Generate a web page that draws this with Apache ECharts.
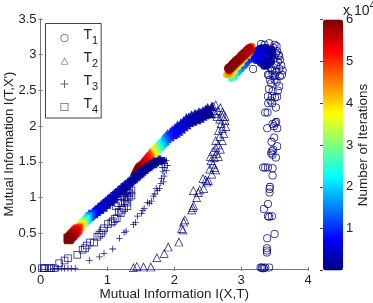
<!DOCTYPE html>
<html><head><meta charset="utf-8">
<style>html,body{margin:0;padding:0;background:#fff}#c{width:373px;height:303px}</style>
<script src="https://cdn.jsdelivr.net/npm/echarts@6/dist/echarts.min.js"></script>
</head><body><div id="c"></div>
<script>
// Each point: [I(X,T), I(T,X'), iterations / 10^4]
const t1Sparse=[[3.32,.01,.01],[3.29,.02,.01],[3.31,.02,.01],[3.36,.02,.01],[3.42,.02,.01],[3.34,.01,.01],[3.385,.23,.01],[3.385,.26,.01],[3.385,.29,.01],[3.39,.43,.01],[3.5,.49,.01],[3.40,.74,.01],[3.46,.74,.01],[3.42,.73,.01],[3.34,.84,.01],[3.40,.91,.01],[3.425,1.07,.01],[3.425,1.12,.01],[3.43,1.15,.01],[3.33,1.42,.01],[3.36,1.42,.01],[3.40,1.42,.01],[3.47,1.41,.01],[3.47,1.31,.01],[3.45,1.62,.01],[3.47,1.6,.01],[3.46,1.65,.01],[3.52,1.56,.02],[3.48,1.67,.02],[3.54,1.72,.02],[3.455,1.78,.02],[3.495,1.84,.02],[3.39,1.97,.02],[3.49,2.0,.02],[3.54,1.97,.02],[3.525,2.06,.02],[3.51,2.04,.02],[3.47,2.03,.02],[3.395,2.19,.02],[3.36,2.19,.02],[3.52,2.26,.02],[3.465,2.32,.02],[3.405,2.32,.02],[3.505,2.4,.02],[3.46,2.42,.03],[3.54,2.41,.03],[3.415,2.52,.03],[3.57,2.56,.03],[3.43,2.65,.03],[3.5,2.65,.03],[3.62,2.78,.03],[3.18,2.8,.03],[3.47,2.49,.03],[3.55,2.5,.03],[3.53,2.62,.03],[3.4,2.42,.03],[3.44,2.36,.03]];
const t1Edge=[[3.6,2.85,.03],[3.58,2.7,.03],[3.61,2.72,.03],[3.57,2.98,.03],[3.53,3.12,.04],[3.5,3.14,.04],[3.42,3.16,.04],[3.35,3.14,.04],[3.3,3.15,.04],[3.45,2.6,.04],[3.42,2.72,.05],[3.57,2.8,.05],[3.55,2.9,.05],[3.58,2.93,.05],[3.54,3.05,.05],[3.47,2.72,.05],[3.5,2.78,.05],[3.4,2.72,.05],[3.44,2.82,.05],[3.52,2.85,.05],[3.56,3.0,.05],[3.5,2.7,.06],[3.53,2.76,.06],[3.48,3.1,.06],[3.46,2.78,.07],[3.5,2.95,.07],[3.52,3.02,.07]];
const t1Dense=[[3.46,3.08,.1],[3.38,3.1,.12],[3.45,2.9,.12],[3.47,2.98,.12],[3.47,3.04,.12],[3.41,2.86,.14],[3.38,2.84,.16],[3.34,2.84,.18],[3.42,2.95,.18],[3.43,3.03,.18],[3.32,3.1,.2],[3.4,3.06,.2],[3.37,3.04,.22],[3.33,3.07,.24],[3.38,2.92,.24],[3.33,2.93,.28],[3.29,2.88,.3],[3.3,3.0,.32],[3.35,3.0,.34],[3.26,3.07,.36],[3.28,3.09,.38],[3.24,3.0,.42],[3.26,2.92,.44],[3.22,2.92,.48],[3.24,3.05,.5],[3.31,3.04,.5],[3.28,2.97,.52],[3.2,2.96,.56],[3.22,3.02,.6],[3.18,3.0,.64],[3.2,3.06,.68],[3.17,2.95,.72],[3.15,3.0,.8],[3.13,2.93,.9],[3.1,2.92,1],[3.08,2.88,1.1],[3.05,2.85,1.25],[3.02,2.83,1.4]];
const t1Color=[[3.0,2.8,1.5],[2.97,2.78,1.65],[2.95,2.75,1.8],[2.92,2.73,2],[2.9,2.7,2.2],[2.87,2.68,2.4],[2.85,2.67,2.6],[3.13,3.03,3.4],[3.1,2.99,3.5],[3.05,2.94,3.6],[3.0,2.88,3.7],[2.95,2.83,3.8],[2.9,2.77,3.9],[2.86,2.72,4],[2.78,2.72,4.1],[2.8,2.73,4.3],[2.82,2.74,4.5],[3.14,3.11,4.6],[3.16,3.12,4.8]];
const t1Red=[[3.14,3.07,5.3],[3.12,3.05,5.32],[3.1,3.04,5.34],[3.08,3.02,5.36],[3.06,3.0,5.38],[3.04,2.98,5.4],[3.02,2.97,5.42],[3.0,2.95,5.44],[2.98,2.93,5.46],[2.96,2.91,5.48],[2.94,2.9,5.5],[2.92,2.88,5.52],[2.9,2.86,5.54],[2.88,2.84,5.56],[2.86,2.82,5.58],[2.84,2.81,5.6],[2.82,2.79,5.62],[3.13,3.09,5.7],[3.11,3.08,5.72],[3.09,3.06,5.74],[3.07,3.04,5.76],[3.05,3.02,5.78],[3.03,3.01,5.8],[3.01,2.99,5.82],[2.99,2.97,5.84],[2.97,2.95,5.86],[2.95,2.93,5.88],[2.93,2.92,5.9],[2.91,2.9,5.92],[2.89,2.88,5.94],[2.87,2.86,5.96],[2.85,2.84,5.97],[2.83,2.82,5.98],[2.81,2.81,6]];
const t2Sparse=[[1.39,.02,.01],[1.44,.04,.01],[1.54,.03,.01],[1.65,.03,.01],[1.74,.16,.01],[1.85,.22,.01],[1.91,.31,.01],[2.07,.38,.01],[2.11,.57,.01],[2.13,.55,.01],[2.16,.69,.01],[2.14,.66,.01],[2.275,.86,.01],[2.29,.89,.01],[2.26,.83,.01],[2.335,1.0,.01],[2.285,1.1,.01],[2.36,1.07,.01],[2.38,1.11,.01],[2.44,1.13,.01],[2.43,1.27,.02],[2.47,1.25,.02],[2.51,1.24,.02],[2.49,1.22,.02],[2.56,1.33,.02],[2.62,1.39,.02],[2.53,1.4,.02],[2.58,1.47,.02],[2.6,1.42,.02],[2.55,1.52,.02],[2.54,1.58,.02],[2.66,1.58,.02],[2.6,1.56,.02],[2.63,1.62,.02],[2.58,1.65,.02],[2.62,1.7,.03],[2.69,1.68,.03],[2.66,1.74,.03],[2.72,1.8,.03],[2.62,1.8,.03],[2.68,1.86,.03],[2.74,1.9,.03],[2.66,1.94,.03],[2.72,1.97,.03],[2.77,2.0,.03],[2.7,2.04,.03],[2.76,2.08,.03],[2.72,2.14,.04],[2.76,2.14,.04],[2.68,2.1,.04],[2.72,2.2,.04],[2.65,2.22,.04],[2.69,2.26,.05],[2.62,2.3,.05],[2.58,2.28,.05],[2.64,2.14,.05],[2.6,2.18,.05]];
const t2Dense=[[2.56,2.28,.06],[2.53,2.22,.07],[2.5,2.26,.08],[2.55,2.17,.08],[2.51,2.18,.09],[2.47,2.24,.1],[2.46,2.16,.1],[2.43,2.22,.12],[2.43,2.14,.13],[2.4,2.19,.14],[2.39,2.11,.15],[2.37,2.2,.16],[2.36,2.14,.17],[2.34,2.17,.18],[2.34,2.09,.19],[2.31,2.12,.2],[2.31,2.18,.21],[2.29,2.14,.22],[2.28,2.07,.23],[2.26,2.16,.24],[2.25,2.09,.26],[2.23,2.05,.28],[2.22,2.13,.3],[2.2,2.08,.32],[2.19,2.02,.34],[2.18,2.12,.36],[2.16,2.05,.38],[2.15,1.99,.4],[2.14,2.08,.42],[2.12,2.02,.44],[2.11,1.96,.46],[2.1,2.05,.48],[2.08,1.99,.5],[2.07,1.93,.52],[2.05,2.02,.55],[2.04,1.96,.58],[2.03,1.9,.6],[2.01,1.98,.63],[2.0,1.92,.66],[1.99,1.88,.7],[1.97,1.95,.75],[1.96,1.89,.8],[1.94,1.85,.85],[1.94,1.92,.9],[1.92,1.87,.95]];
const t2Color=[[1.9,1.89,1],[1.89,1.83,1.1],[1.87,1.86,1.3],[1.86,1.8,1.4],[1.84,1.83,1.6],[1.83,1.77,1.7],[1.82,1.8,1.9],[1.8,1.74,2],[1.79,1.77,2.2],[1.77,1.72,2.4],[1.76,1.75,2.6],[1.74,1.69,2.8],[1.73,1.72,3],[1.71,1.66,3.2],[1.7,1.69,3.5],[1.69,1.63,3.7],[1.68,1.66,3.9],[1.66,1.6,4.2],[1.65,1.63,4.4],[1.64,1.58,4.6]];
const t2Red=[[1.63,1.61,4.9],[1.62,1.56,5],[1.61,1.58,5.1],[1.6,1.54,5.15],[1.59,1.56,5.2],[1.58,1.52,5.3],[1.57,1.54,5.35],[1.56,1.5,5.4],[1.55,1.52,5.45],[1.54,1.48,5.5],[1.53,1.49,5.55],[1.52,1.46,5.6],[1.51,1.47,5.65],[1.5,1.44,5.7],[1.49,1.45,5.75],[1.48,1.43,5.8],[1.47,1.43,5.85],[1.46,1.41,5.9],[1.45,1.42,5.93],[1.44,1.41,5.95],[1.43,1.4,5.97],[1.47,1.4,5.98],[1.42,1.39,6]];
const t3Sparse=[[.2,.01,.01],[.27,.01,.01],[.31,.01,.01],[.36,.01,.01],[.41,.01,.01],[.46,.01,.01],[.52,.01,.01],[.73,.12,.01],[.88,.17,.01],[.95,.22,.01],[1.08,.28,.01],[1.18,.43,.01],[1.25,.51,.01],[1.28,.53,.01],[1.39,.62,.01],[1.42,.65,.01],[1.45,.74,.01],[1.53,.82,.01],[1.51,.78,.01],[1.55,.85,.01],[1.63,.92,.01],[1.6,.93,.01],[1.66,.95,.01],[1.71,1.05,.02],[1.69,1.02,.02],[1.75,1.1,.02],[1.73,1.13,.02],[1.78,1.13,.02],[1.8,1.2,.02],[1.84,1.22,.02],[1.81,1.27,.02],[1.85,1.3,.02],[1.83,1.36,.02],[1.88,1.38,.02],[1.85,1.42,.02],[1.9,1.45,.02],[1.86,1.48,.03],[1.88,1.52,.03],[1.83,1.5,.03],[1.82,1.42,.03]];
const t3Dense=[[1.84,1.52,.04],[1.8,1.5,.05],[1.78,1.54,.05],[1.74,1.5,.06],[1.72,1.46,.06],[1.7,1.51,.07],[1.67,1.46,.07],[1.65,1.42,.08],[1.64,1.47,.08],[1.61,1.42,.09],[1.59,1.38,.1],[1.58,1.43,.1],[1.55,1.38,.11],[1.53,1.33,.12],[1.52,1.39,.13],[1.5,1.34,.14],[1.48,1.29,.15],[1.47,1.35,.16],[1.45,1.3,.17],[1.43,1.25,.18],[1.42,1.31,.19],[1.4,1.26,.2],[1.38,1.21,.21],[1.37,1.27,.22],[1.35,1.22,.23],[1.33,1.17,.24],[1.32,1.23,.25],[1.3,1.18,.26],[1.28,1.13,.27],[1.27,1.19,.28],[1.25,1.14,.29],[1.23,1.09,.3],[1.22,1.15,.31],[1.2,1.1,.32],[1.18,1.05,.33],[1.17,1.11,.34],[1.15,1.06,.35],[1.13,1.01,.36],[1.12,1.07,.37],[1.1,1.02,.38],[1.08,.97,.39],[1.07,1.03,.4],[1.05,.98,.42],[1.03,.93,.44],[1.02,.99,.46],[1.0,.94,.48],[.98,.89,.5],[.97,.95,.52],[.95,.9,.54],[.93,.85,.56],[.92,.91,.58],[.9,.86,.6],[.88,.81,.63],[.87,.87,.66],[.85,.82,.7],[.83,.78,.75],[.82,.83,.8],[.8,.78,.85]];
const t4Sparse=[[.02,.01,.01],[.05,.01,.01],[.07,.01,.01],[.13,.01,.01],[.16,.01,.01],[.2,.01,.01],[.28,.08,.01],[.36,.12,.01],[.41,.15,.01],[.55,.2,.01],[.63,.27,.01],[.665,.29,.01],[.69,.33,.01],[.74,.37,.01],[.8,.37,.01],[.85,.45,.01],[.91,.5,.01],[.88,.48,.01],[.95,.57,.01],[.93,.54,.01],[1.01,.63,.01],[1.06,.65,.01],[1.08,.67,.01],[1.14,.71,.01],[1.11,.7,.02],[1.2,.78,.02],[1.17,.8,.02],[1.25,.85,.02],[1.22,.83,.02],[1.29,.93,.02],[1.26,.95,.02],[1.3,.88,.02],[1.32,1.0,.02],[1.29,1.0,.02],[1.33,1.06,.02],[1.3,1.07,.02],[1.36,1.03,.03],[1.36,1.1,.03],[1.32,1.12,.03],[1.28,1.1,.03],[1.24,1.06,.03],[1.25,1.0,.03],[1.21,.92,.03],[1.2,1.02,.03],[1.16,.92,.03],[1.13,.88,.03]];
const t4Color=[[1.1,.97,.2],[1.05,.93,.24],[1.0,.89,.28],[.98,.93,.3],[.95,.85,.34],[.93,.88,.38],[.9,.82,.42],[.88,.84,.48],[.85,.79,.55],[.83,.81,.62],[.81,.76,.7],[.79,.78,.85],[.77,.74,1],[.76,.78,1.15],[.75,.72,1.3],[.73,.75,1.5],[.72,.7,1.7],[.71,.73,1.9],[.7,.68,2.05],[.69,.71,2.2],[.68,.67,2.4],[.67,.69,2.6],[.66,.65,2.8],[.65,.67,3],[.64,.63,3.2],[.63,.65,3.4],[.62,.61,3.6],[.61,.63,3.8],[.6,.59,4.1],[.59,.6,4.4],[.58,.57,4.6],[.57,.58,4.8]];
const t4Red=[[.56,.55,5],[.55,.56,5.1],[.54,.53,5.2],[.53,.54,5.3],[.52,.51,5.4],[.51,.52,5.5],[.5,.49,5.6],[.49,.5,5.65],[.48,.47,5.7],[.47,.48,5.75],[.46,.45,5.8],[.45,.46,5.85],[.44,.43,5.9],[.43,.44,5.93],[.43,.42,5.96],[.41,.43,5.98],[.42,.41,6]];
const xTicks={min:0,max:4,interval:1};
const yTicks={min:0,max:3.5,interval:.5};
const barTicks={min:0,max:6,interval:1};
const seriesNames=['T1','T2','T3','T4'];
const jet=['#00007f','#0000ff','#007fff','#00ffff','#7fff7f','#ffff00','#ff7f00','#ff0000','#7f0000'];

const circlePath='path://M50 0A50 50 0 1 1 50 100A50 50 0 1 1 50 0ZM50 10A40 40 0 1 0 50 90A40 40 0 1 0 50 10Z';
const triPath='path://M50 0L100 90L0 90ZM50 16L12 83L88 83Z';
const squarePath='path://M0 0H100V100H0ZM10 10V90H90V10Z';
const plusPath='path://M44 0H56V44H100V56H56V100H44V56H0V44H44Z';
const circleSolid='circle';
const triSolid='path://M50 0L100 90L0 90Z';
const squareSolid='rect';
const plusSolid='path://M25 0H75V25H100V75H75V100H25V75H0V25H25Z';
const FONT='"Liberation Sans",Arial,sans-serif';
const TXT='#222';
const LINE='#777';
const solid=(arr,symbol,symbolSize)=>arr.map(p=>({value:p,symbol,symbolSize}));
function mk(name,data,symbol,size){
  return {type:'scatter',name,data,symbol,symbolSize:size,xAxisIndex:0,yAxisIndex:0,
    itemStyle:{color:'#555',opacity:.9},emphasis:{disabled:true},silent:true};
}
const t1Data=[...t1Sparse,...t1Edge,...solid(t1Dense,circleSolid,7),...solid(t1Color,circleSolid,7),...solid(t1Red,circleSolid,9)];
const t2Data=[...t2Sparse,...solid(t2Dense,triSolid,9),...solid(t2Color,triSolid,10),...solid(t2Red,triSolid,11)];
const t3Data=[...t3Sparse,...solid(t3Dense,plusSolid,7)];
const t4Data=[...t4Sparse,...solid(t4Color,squareSolid,7),...solid(t4Red,squareSolid,9)];
const chart=echarts.init(document.getElementById('c'),null,{renderer:'canvas'});
const innerAxis={axisLine:{show:true,lineStyle:{color:LINE,width:1}},axisTick:{show:true,inside:true,length:2,lineStyle:{color:LINE}},splitLine:{show:false}};
chart.setOption({
  animation:false,
  backgroundColor:'#fff',
  textStyle:{fontFamily:FONT},
  title:{text:'{a|x 10}{b|4}',left:343,top:-2,padding:0,textStyle:{fontWeight:'normal',rich:{
    a:{fontSize:14,color:TXT,fontFamily:FONT,fontWeight:'normal',padding:[6,0,0,0]},
    b:{fontSize:10,color:TXT,fontFamily:FONT,fontWeight:'normal',padding:[0,0,4,0]}}}},
  grid:[{left:40.5,top:19,width:267.5,height:250,show:false,outerBoundsMode:'none'},{left:323,top:19.5,width:20,height:251,show:false,outerBoundsMode:'none'}],
  xAxis:[
    {gridIndex:0,type:'value',...xTicks,position:'bottom',...innerAxis,
     axisLabel:{fontSize:13,color:TXT,margin:5},
     name:'Mutual Information I(X,T)',nameLocation:'middle',nameMoveOverlap:false,nameGap:18,nameTextStyle:{fontSize:13.5,color:TXT}},
    {gridIndex:0,type:'value',...xTicks,position:'top',...innerAxis,axisLabel:{show:false}},
    {gridIndex:1,type:'value',min:0,max:1,show:false}],
  yAxis:[
    {gridIndex:0,type:'value',...yTicks,position:'left',...innerAxis,
     axisLabel:{fontSize:13,color:TXT,margin:4},
     name:"Mutual Information I(T,X')",nameLocation:'middle',nameMoveOverlap:false,nameGap:25,nameTextStyle:{fontSize:13,color:TXT}},
    {gridIndex:0,type:'value',...yTicks,position:'right',...innerAxis,axisLabel:{show:false}},
    {gridIndex:1,type:'value',...barTicks,position:'right',
     axisLine:{show:false},splitLine:{show:false},
     axisTick:{show:true,inside:true,length:3,lineStyle:{color:'#444'}},
     axisLabel:{fontSize:13,color:TXT,margin:3,formatter:v=>v===0?'':String(v)},
     name:'Number of Iterations',nameLocation:'middle',nameMoveOverlap:false,nameGap:13,nameRotate:90,nameTextStyle:{fontSize:13.5,color:TXT}}],
  legend:{show:true,orient:'vertical',left:45.5,top:23.5,padding:[5,3,3,15],itemGap:5.5,itemWidth:8,itemHeight:8,
    borderColor:'#444',borderWidth:1,backgroundColor:'#fff',selectedMode:false,z:10,
    data:[{name:'T1',icon:circlePath},{name:'T2',icon:triPath},{name:'T3',icon:plusPath},{name:'T4',icon:squarePath}],
    formatter:n=>`{a|${n[0]}}{b|${n[1]}}`,
    textStyle:{padding:[0,0,0,10],rich:{
      a:{fontSize:14,color:TXT,fontFamily:FONT,height:17,verticalAlign:'top',padding:[0,0,5,0]},
      b:{fontSize:11,color:TXT,fontFamily:FONT,height:17,verticalAlign:'bottom',padding:[5,0,0,0]}}}},
  visualMap:{type:'continuous',min:0,max:6,dimension:2,seriesIndex:[0,1,2,3],show:true,calculable:false,
    orient:'vertical',left:323,top:19.5,itemWidth:20,itemHeight:251,padding:0,text:null,hoverLink:false,
    showLabel:false,inRange:{color:jet},textStyle:{color:'rgba(0,0,0,0)',fontSize:1},formatter:()=>''},
  series:[
    mk(seriesNames[0],t1Data,circlePath,8),
    mk(seriesNames[1],t2Data,triPath,9),
    mk(seriesNames[2],t3Data,plusPath,6.5),
    mk(seriesNames[3],t4Data,squarePath,7.5)
  ]
});
</script></body></html>
